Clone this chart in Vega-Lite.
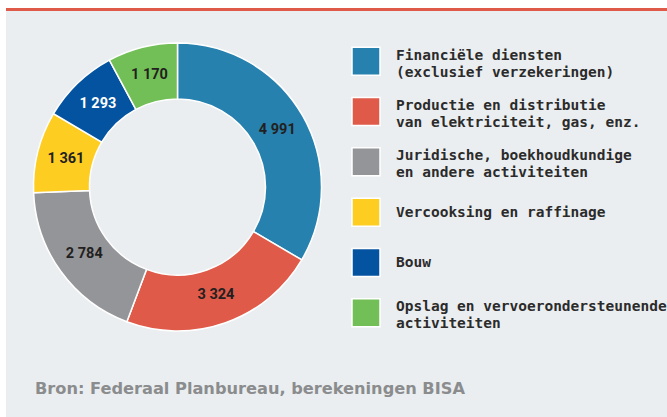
{
  "$schema": "https://vega.github.io/schema/vega-lite/v6.json",
  "background": "#ebeef0",
  "padding": 0,
  "autosize": {"type": "pad"},
  "spacing": 0,
  "config": {
    "view": {"stroke": null},
    "concat": {"spacing": 0},
    "locale": {"number": {"decimal": ",", "thousands": " ", "grouping": [3], "currency": ["€", ""]}}
  },
  "datasets": {
    "sectors": [
      {"sector": "Financiële diensten\n(exclusief verzekeringen)", "value": 4991, "rank": 1},
      {"sector": "Productie en distributie\nvan elektriciteit, gas, enz.", "value": 3324, "rank": 2},
      {"sector": "Juridische, boekhoudkundige\nen andere activiteiten", "value": 2784, "rank": 3},
      {"sector": "Vercooksing en raffinage", "value": 1361, "rank": 4},
      {"sector": "Bouw", "value": 1293, "rank": 5},
      {"sector": "Opslag en vervoerondersteunende\nactiviteiten", "value": 1170, "rank": 6}
    ]
  },
  "hconcat": [
    {
      "width": 6, "height": 417,
      "view": {"fill": "#ffffff", "stroke": null},
      "data": {"values": []},
      "mark": "rect"
    },
    {
      "spacing": 0,
      "vconcat": [
        {
          "width": 661, "height": 8,
          "view": {"fill": "#ffffff", "stroke": null},
          "data": {"values": []},
          "mark": "rect"
        },
        {
          "width": 661, "height": 3,
          "view": {"fill": "#df5a49", "stroke": null},
          "data": {"values": []},
          "mark": "rect"
        },
        {
          "spacing": 0,
          "title": {
            "text": "Bron: Federaal Planbureau, berekeningen BISA",
            "orient": "bottom", "anchor": "start", "frame": "group",
            "font": "DejaVu Sans", "fontSize": 16.2, "fontWeight": "bold",
            "color": "#8a8c8e", "offset": 18, "dx": 29
          },
          "hconcat": [
            {
              "width": 343, "height": 352,
              "view": {"fill": null, "stroke": null},
              "data": {"name": "sectors"},
              "encoding": {
                "theta": {"field": "value", "type": "quantitative", "stack": true},
                "order": {"field": "rank", "type": "quantitative"},
                "color": {
                  "field": "sector", "type": "nominal",
                  "sort": null,
                  "legend": null,
                  "scale": {
                    "domain": [
                      "Financiële diensten\n(exclusief verzekeringen)",
                      "Productie en distributie\nvan elektriciteit, gas, enz.",
                      "Juridische, boekhoudkundige\nen andere activiteiten",
                      "Vercooksing en raffinage",
                      "Bouw",
                      "Opslag en vervoerondersteunende\nactiviteiten"
                    ],
                    "range": ["#2681ae", "#df5a49", "#949598", "#fecd22", "#0453a1", "#71bf56"]
                  }
                }
              },
              "layer": [
                {"mark": {"type": "arc", "innerRadius": 88, "outerRadius": 144, "stroke": "#ffffff", "strokeWidth": 1.5}},
                {
                  "mark": {"type": "text", "radius": 115, "font": "Roboto", "fontSize": 14.5, "fontWeight": "bold"},
                  "encoding": {
                    "text": {"field": "value", "type": "quantitative", "format": ",d"},
                    "color": {
                      "condition": {"test": "datum.sector === 'Bouw'", "value": "#ffffff"},
                      "value": "#231f20"
                    }
                  }
                }
              ]
            },
            {
              "width": 26, "height": 352,
              "view": {"fill": null, "stroke": null},
              "data": {"name": "sectors"},
              "encoding": {
                "y": {
                  "field": "sector", "type": "nominal", "sort": null,
                  "scale": {"type": "point", "padding": 1.13},
                  "axis": null
                }
              },
              "layer": [
                {
                  "mark": {"type": "square", "size": 784, "opacity": 1, "filled": true, "stroke": "#ffffff", "strokeWidth": 1.5},
                  "encoding": {
                    "color": {
                      "field": "sector", "type": "nominal", "sort": null, "legend": null,
                      "scale": {
                        "domain": [
                          "Financiële diensten\n(exclusief verzekeringen)",
                          "Productie en distributie\nvan elektriciteit, gas, enz.",
                          "Juridische, boekhoudkundige\nen andere activiteiten",
                          "Vercooksing en raffinage",
                          "Bouw",
                          "Opslag en vervoerondersteunende\nactiviteiten"
                        ],
                        "range": ["#2681ae", "#df5a49", "#949598", "#fecd22", "#0453a1", "#71bf56"]
                      }
                    }
                  }
                },
                {
                  "transform": [{"filter": "indexof(datum.sector, '\\n') < 0"}],
                  "mark": {"type": "text", "align": "left", "baseline": "middle", "dx": 30, "dy": 0.5,
                           "font": "DejaVu Sans Mono", "fontSize": 14.5, "fontWeight": "bold", "color": "#2b2b2b"},
                  "encoding": {"text": {"field": "sector"}}
                },
                {
                  "transform": [{"filter": "indexof(datum.sector, '\\n') >= 0"}],
                  "mark": {"type": "text", "align": "left", "baseline": "middle", "dx": 30, "dy": -5.5,
                           "lineBreak": "\n", "lineHeight": 17,
                           "font": "DejaVu Sans Mono", "fontSize": 14.5, "fontWeight": "bold", "color": "#2b2b2b"},
                  "encoding": {"text": {"field": "sector"}}
                }
              ]
            }
          ]
        }
      ]
    }
  ]
}
